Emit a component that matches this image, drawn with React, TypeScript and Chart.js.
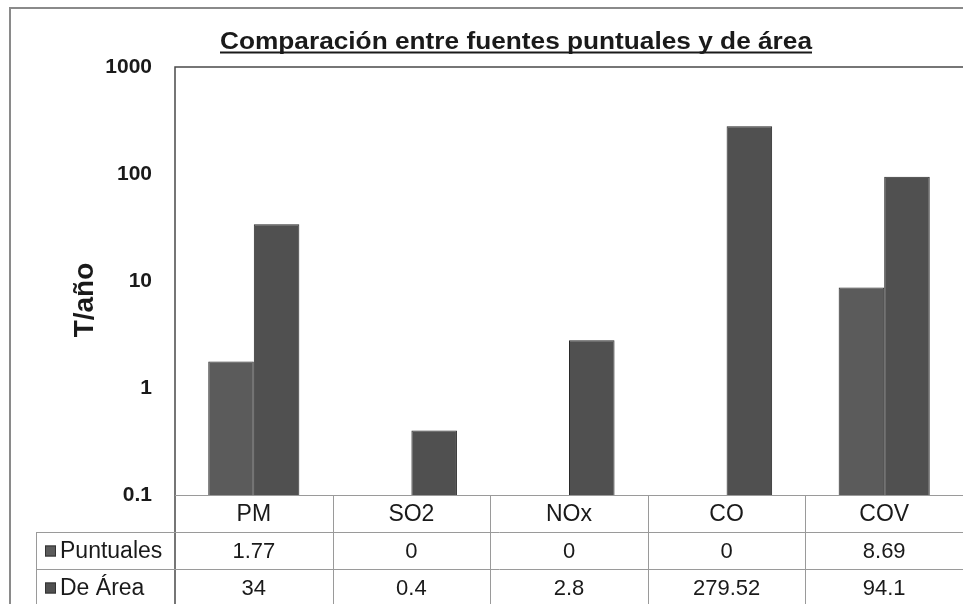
import React, { useEffect, useRef } from "react";
import { Chart, registerables } from "chart.js";

Chart.register(...registerables);

const categories = ["PM", "SO2", "NOx", "CO", "COV"];
const puntuales = [1.77, 0, 0, 0, 8.69];
const deArea = [34, 0.4, 2.8, 279.52, 94.1];
const seriesNames = ["Puntuales", "De Área"];
const yTicks = [0.1, 1, 10, 100, 1000];
const yTickLabels = ["0.1", "1", "10", "100", "1000"];
const chartTitle = "Comparación entre fuentes puntuales y de área";
const yTitle = "T/año";

const W = 963;
const H = 604;
const FONT = "'Liberation Sans', Arial, sans-serif";
const seriesColors = ["#5b5b5b", "#505050"];
const seriesValues = [puntuales, deArea];

const tablePlugin = {
  id: "tablePlugin",
  afterDraw(chart: any) {
    const ctx = chart.ctx as CanvasRenderingContext2D;
    const area = chart.chartArea;
    const xs = chart.scales.x;
    const n = categories.length;
    const colW = (area.right - area.left) / n;
    const rowTop = area.bottom;
    const rowH = 37;
    const legendLeft = 36;
    ctx.save();

    // outer border
    ctx.strokeStyle = "#8a8a8a";
    ctx.lineWidth = 2;
    ctx.beginPath();
    ctx.moveTo(10, H + 2);
    ctx.lineTo(10, 8);
    ctx.lineTo(W + 2, 8);
    ctx.stroke();

    // plot border
    ctx.strokeStyle = "#4a4a4a";
    ctx.lineWidth = 1.5;
    ctx.beginPath();
    ctx.moveTo(area.left, H + 2);
    ctx.lineTo(area.left, area.top);
    ctx.lineTo(W + 2, area.top);
    ctx.stroke();

    // table grid
    ctx.strokeStyle = "#9a9a9a";
    ctx.lineWidth = 1;
    ctx.beginPath();
    ctx.moveTo(area.left, rowTop + 0.5);
    ctx.lineTo(W, rowTop + 0.5);
    for (let r = 1; r <= 2; r++) {
      const y = Math.round(rowTop + r * rowH) + 0.5;
      ctx.moveTo(legendLeft, y);
      ctx.lineTo(W, y);
    }
    for (let i = 1; i < n; i++) {
      const x = Math.round(area.left + i * colW) + 0.5;
      ctx.moveTo(x, rowTop);
      ctx.lineTo(x, H);
    }
    ctx.moveTo(legendLeft + 0.5, rowTop + rowH);
    ctx.lineTo(legendLeft + 0.5, H);
    ctx.stroke();

    // category labels
    ctx.fillStyle = "#1a1a1a";
    ctx.textAlign = "center";
    ctx.textBaseline = "middle";
    ctx.font = `23px ${FONT}`;
    categories.forEach((c, i) => {
      const cx = xs.getPixelForValue(i);
      ctx.fillText(c, cx, rowTop + rowH / 2 + 1);
    });
    // values rows
    ctx.font = `22px ${FONT}`;
    seriesValues.forEach((vals, r) => {
      const cy = rowTop + (r + 1) * rowH + rowH / 2 + 1;
      vals.forEach((v, i) => {
        const cx = xs.getPixelForValue(i);
        ctx.fillText(String(v), cx, cy);
      });
      // legend
      ctx.fillStyle = seriesColors[r];
      ctx.fillRect(45, cy - 6, 11, 11);
      ctx.strokeStyle = "#333";
      ctx.lineWidth = 1;
      ctx.strokeRect(45.5, cy - 5.5, 10, 10);
      ctx.fillStyle = "#1a1a1a";
      ctx.textAlign = "left";
      ctx.font = `23px ${FONT}`;
      ctx.fillText(seriesNames[r], 60, cy);
      ctx.font = `22px ${FONT}`;
      ctx.textAlign = "center";
    });

    // title (slightly stretched horizontally like the scan)
    ctx.font = `bold 23px ${FONT}`;
    ctx.textAlign = "center";
    ctx.textBaseline = "alphabetic";
    const tx = 516;
    const ty = 49;
    const tw = ctx.measureText(chartTitle).width;
    const sx = 592 / tw;
    ctx.save();
    ctx.translate(tx, ty);
    ctx.scale(sx, 1);
    ctx.fillText(chartTitle, 0, 0);
    ctx.restore();
    ctx.strokeStyle = "#1a1a1a";
    ctx.lineWidth = 2;
    ctx.beginPath();
    ctx.moveTo(tx - 296, ty + 3.5);
    ctx.lineTo(tx + 296, ty + 3.5);
    ctx.stroke();

    // y title
    ctx.save();
    ctx.translate(85, 300);
    ctx.rotate(-Math.PI / 2);
    ctx.font = `bold 28px ${FONT}`;
    ctx.textBaseline = "middle";
    ctx.fillText(yTitle, 0, 0);
    ctx.restore();

    ctx.restore();
  },
};

export default function App() {
  const ref = useRef<HTMLCanvasElement | null>(null);
  useEffect(() => {
    if (!ref.current) return;
    const chart = new Chart(ref.current, {
      type: "bar",
      data: {
        labels: categories,
        datasets: seriesValues.map((vals, i) => ({
          label: seriesNames[i],
          data: vals.map((v) => (v > 0 ? v : null)),
          backgroundColor: seriesColors[i],
          borderColor: "#2a2a2a",
          borderWidth: 1,
          categoryPercentage: 0.578,
          barPercentage: 1,
        })),
      },
      options: {
        animation: false,
        responsive: false,
        layout: { padding: { left: 60, top: 67, right: 0, bottom: H - 495 } },
        plugins: {
          legend: { display: false },
          title: { display: false },
          tooltip: { enabled: false },
        },
        scales: {
          x: { display: false },
          y: {
            type: "logarithmic",
            min: 0.1,
            max: 1000,
            grid: { display: false, drawTicks: false },
            border: { display: false },
            afterBuildTicks: (s: any) => {
              s.ticks = yTicks.map((v) => ({ value: v }));
            },
            afterFit: (s: any) => {
              s.width = 175 - 60;
            },
            ticks: {
              padding: 23,
              color: "#1a1a1a",
              font: { family: FONT, size: 21, weight: "bold" },
              callback: (v: any) => {
                const idx = yTicks.indexOf(Number(v));
                return idx >= 0 ? yTickLabels[idx] : "";
              },
            },
          },
        },
      },
      plugins: [tablePlugin],
    });
    return () => chart.destroy();
  }, []);
  return (
    <div style={{ position: "absolute", left: 0, top: 0, width: W, height: H, background: "#fff" }}>
      <canvas ref={ref} width={W} height={H} />
    </div>
  );
}
